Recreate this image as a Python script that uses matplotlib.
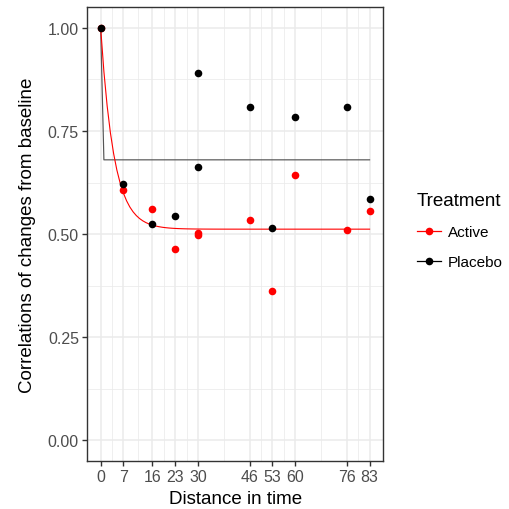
import matplotlib
matplotlib.use("Agg")
import matplotlib.pyplot as plt
import numpy as np
from matplotlib.lines import Line2D

plt.rcParams['font.family'] = ['Liberation Sans', 'DejaVu Sans']

# observed correlations
dist_active = [0, 7, 16, 23, 30, 30, 46, 53, 60, 76, 83]
corr_active = [1.00, 0.606, 0.562, 0.463, 0.503, 0.497, 0.534, 0.363, 0.643, 0.511, 0.557]
dist_placebo = [0, 7, 16, 23, 30, 30, 46, 53, 60, 76, 83]
corr_placebo = [1.00, 0.622, 0.524, 0.544, 0.890, 0.663, 0.809, 0.514, 0.785, 0.808, 0.584]

# fitted curves: asymptote + (1 - asymptote) * exp(-rate * t), evaluated at integer t
fit_active = (0.512, 0.245)
fit_placebo = (0.680, 40.0)
fit_grid = np.arange(0, 84)

x_breaks = [0, 7, 16, 23, 30, 46, 53, 60, 76, 83]
y_breaks = [0.00, 0.25, 0.50, 0.75, 1.00]

fig = plt.figure(figsize=(5.1, 5.1), dpi=100)
ax = fig.add_axes([0.171, 0.094, 0.580, 0.890])

ax.set_xlim(-4.15, 87.15)
ax.set_ylim(-0.05, 1.05)

# grid
x_minor = [(a + b) / 2 for a, b in zip(x_breaks[:-1], x_breaks[1:])]
y_minor = [(a + b) / 2 for a, b in zip(y_breaks[:-1], y_breaks[1:])]
for v in x_minor:
    ax.axvline(v, color='#EBEBEB', lw=0.55, zorder=0)
for v in y_minor:
    ax.axhline(v, color='#EBEBEB', lw=0.55, zorder=0)
for v in x_breaks:
    ax.axvline(v, color='#EBEBEB', lw=1.1, zorder=0)
for v in y_breaks:
    ax.axhline(v, color='#EBEBEB', lw=1.1, zorder=0)

def curve(params, t):
    a, k = params
    return a + (1 - a) * np.exp(-k * t)

ax.plot(fit_grid, curve(fit_placebo, fit_grid), color='#555555', lw=0.85, zorder=2)
ax.plot(fit_grid, curve(fit_active, fit_grid), color='red', lw=0.8, zorder=2)

ax.scatter(dist_active, corr_active, s=30, color='red', zorder=3, linewidths=0)
ax.scatter(dist_placebo, corr_placebo, s=30, color='black', zorder=4, linewidths=0)

ax.set_xticks(x_breaks)
ax.set_xticklabels([str(v) for v in x_breaks])
ax.set_yticks(y_breaks)
ax.set_yticklabels(['%.2f' % v for v in y_breaks])
ax.tick_params(axis='both', length=3.5, width=1, color='#333333',
               labelcolor='#4D4D4D', labelsize=11.5, pad=2.5)

for sp in ax.spines.values():
    sp.set_color('#333333')
    sp.set_linewidth(1.0)

ax.set_xlabel('Distance in time', fontsize=13.5, color='black', labelpad=4)
ax.set_ylabel('Correlations of changes from baseline', fontsize=13.5, color='black', labelpad=8.5)

handles = [
    Line2D([], [], color='red', lw=0.9, marker='o', markersize=5.5, markeredgewidth=0),
    Line2D([], [], color='black', lw=0.9, marker='o', markersize=5.5, markeredgewidth=0),
]
leg = fig.legend(handles, ['Active', 'Placebo'], title='Treatment',
                 loc='upper left', bbox_to_anchor=(0.793, 0.645),
                 frameon=False, fontsize=11, title_fontsize=13.5,
                 handlelength=1.6, handletextpad=0.45, labelspacing=1.05,
                 borderpad=0.3)
leg._legend_box.align = 'left'

fig.savefig('out.png', dpi=100)
